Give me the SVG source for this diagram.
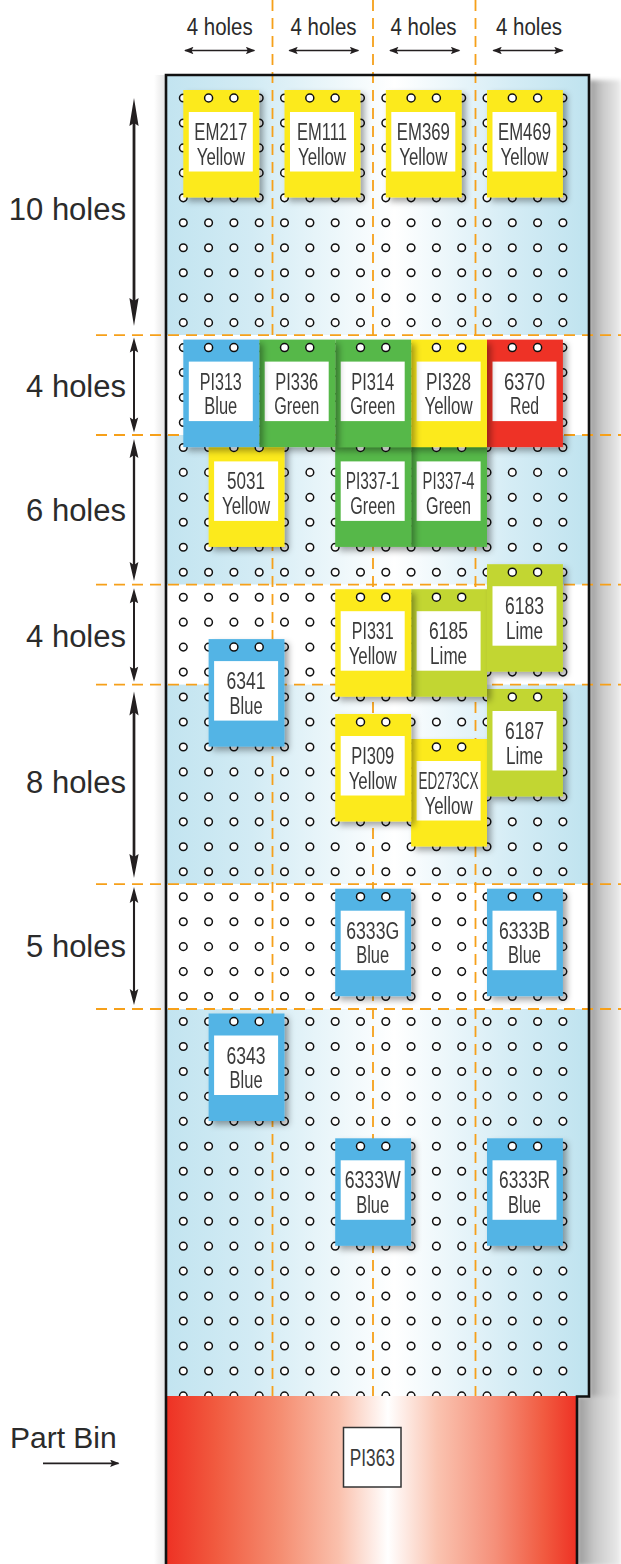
<svg xmlns="http://www.w3.org/2000/svg" width="621" height="1564" viewBox="0 0 621 1564">
<defs>
<style>
.hole{fill:#fff;stroke:#111;stroke-width:1.5}
.thole{fill:#fff;stroke:#111;stroke-width:1.5}
.dash{stroke:#f6a01a;stroke-width:1.8;stroke-dasharray:11 7;fill:none}
.tag{filter:url(#ts)}
.tag text{font-family:"Liberation Sans Narrow","Liberation Sans",Arial,sans-serif;font-size:23.5px;fill:#3a3a3a;text-anchor:middle}
.lbl{fill:#fff}
.y{fill:#fcea1f}.b{fill:#52b4e5}.g{fill:#56b848}.r{fill:#ee3226}.l{fill:#c2d630}
.dim{font-family:"Liberation Sans",Arial,sans-serif;fill:#2b2b2b}
.arr{fill:#231f20}
.arl{stroke:#231f20;fill:none}
.band{fill:url(#band)}
</style>
<linearGradient id="band" gradientUnits="userSpaceOnUse" x1="166" y1="0" x2="589" y2="0">
<stop offset="0" stop-color="#c2e4f0"/>
<stop offset="0.2" stop-color="#d2ebf4"/>
<stop offset="0.54" stop-color="#ffffff"/>
<stop offset="0.82" stop-color="#d4ecf5"/>
<stop offset="1" stop-color="#bfe3ef"/>
</linearGradient>
<linearGradient id="bin" gradientUnits="userSpaceOnUse" x1="166" y1="0" x2="577" y2="0">
<stop offset="0" stop-color="#ee3124"/>
<stop offset="0.12" stop-color="#f15a3f"/>
<stop offset="0.28" stop-color="#f58e72"/>
<stop offset="0.42" stop-color="#fac0ac"/>
<stop offset="0.54" stop-color="#ffffff"/>
<stop offset="0.66" stop-color="#fac3b0"/>
<stop offset="0.8" stop-color="#f5907a"/>
<stop offset="0.92" stop-color="#f15a40"/>
<stop offset="1" stop-color="#ee3124"/>
</linearGradient>
<linearGradient id="shd" x1="0" y1="0" x2="1" y2="0">
<stop offset="0" stop-color="#999"/>
<stop offset="0.4" stop-color="#c8c8c8"/>
<stop offset="1" stop-color="#ececec"/>
</linearGradient>
<linearGradient id="shdL" x1="0" y1="0" x2="1" y2="0">
<stop offset="0" stop-color="#fff"/>
<stop offset="1" stop-color="#e2e2e2"/>
</linearGradient>
<filter id="ts" x="-20%" y="-20%" width="150%" height="150%">
<feDropShadow dx="4" dy="4" stdDeviation="3" flood-color="#000" flood-opacity="0.35"/>
</filter>
<filter id="soft" x="-20%" y="-5%" width="140%" height="110%">
<feGaussianBlur stdDeviation="2"/>
</filter>
<marker id="ah" viewBox="0 0 10 8" refX="9" refY="4" markerWidth="10" markerHeight="7.5" markerUnits="userSpaceOnUse" orient="auto-start-reverse">
<path d="M0,0 L10,4 L0,8 L2,4 Z" fill="#231f20"/>
</marker>
<g id="row">
<circle class="hole" cx="183.3" cy="0" r="3.8"/><circle class="hole" cx="208.6" cy="0" r="3.8"/><circle class="hole" cx="233.9" cy="0" r="3.8"/><circle class="hole" cx="259.2" cy="0" r="3.8"/><circle class="hole" cx="284.5" cy="0" r="3.8"/><circle class="hole" cx="309.9" cy="0" r="3.8"/><circle class="hole" cx="335.2" cy="0" r="3.8"/><circle class="hole" cx="360.5" cy="0" r="3.8"/><circle class="hole" cx="385.8" cy="0" r="3.8"/><circle class="hole" cx="411.1" cy="0" r="3.8"/><circle class="hole" cx="436.4" cy="0" r="3.8"/><circle class="hole" cx="461.7" cy="0" r="3.8"/><circle class="hole" cx="487.0" cy="0" r="3.8"/><circle class="hole" cx="512.3" cy="0" r="3.8"/><circle class="hole" cx="537.6" cy="0" r="3.8"/><circle class="hole" cx="562.9" cy="0" r="3.8"/>
</g>
</defs>
<rect width="621" height="1564" fill="#fff"/>
<g id="board">
<g filter="url(#soft)">
<rect x="589" y="80" width="32" height="1316" fill="url(#shd)"/>
<rect x="577" y="1396" width="44" height="170" fill="url(#shd)"/>
</g>
<rect x="154" y="75" width="12" height="1489" fill="url(#shdL)"/>
<rect class="band" x="166" y="75" width="423" height="260.1"/>
<rect x="166" y="335.1" width="423" height="99.9" fill="#fff"/>
<rect class="band" x="166" y="435" width="423" height="149.7"/>
<rect x="166" y="584.7" width="423" height="99.9" fill="#fff"/>
<rect class="band" x="166" y="684.6" width="423" height="199.6"/>
<rect x="166" y="884.2" width="423" height="124.8" fill="#fff"/>
<rect class="band" x="166" y="1009" width="423" height="387"/>
<g id="holes">
<use href="#row" y="98"/><use href="#row" y="122.96"/><use href="#row" y="147.92"/><use href="#row" y="172.88"/><use href="#row" y="197.84"/><use href="#row" y="222.8"/><use href="#row" y="247.76"/><use href="#row" y="272.72"/><use href="#row" y="297.68"/><use href="#row" y="322.64"/>
<use href="#row" y="347.6"/><use href="#row" y="372.56"/><use href="#row" y="397.52"/><use href="#row" y="422.48"/><use href="#row" y="447.44"/><use href="#row" y="472.4"/><use href="#row" y="497.36"/><use href="#row" y="522.32"/><use href="#row" y="547.28"/><use href="#row" y="572.24"/>
<use href="#row" y="597.2"/><use href="#row" y="622.16"/><use href="#row" y="647.12"/><use href="#row" y="672.08"/><use href="#row" y="697.04"/><use href="#row" y="722"/><use href="#row" y="746.96"/><use href="#row" y="771.92"/><use href="#row" y="796.88"/><use href="#row" y="821.84"/>
<use href="#row" y="846.8"/><use href="#row" y="871.76"/><use href="#row" y="896.72"/><use href="#row" y="921.68"/><use href="#row" y="946.64"/><use href="#row" y="971.6"/><use href="#row" y="996.56"/><use href="#row" y="1021.52"/><use href="#row" y="1046.48"/><use href="#row" y="1071.44"/>
<use href="#row" y="1096.4"/><use href="#row" y="1121.36"/><use href="#row" y="1146.32"/><use href="#row" y="1171.28"/><use href="#row" y="1196.24"/><use href="#row" y="1221.2"/><use href="#row" y="1246.16"/><use href="#row" y="1271.12"/><use href="#row" y="1296.08"/><use href="#row" y="1321.04"/>
<use href="#row" y="1346"/><use href="#row" y="1370.96"/><use href="#row" y="1395.92"/>
</g>
</g>
<g id="guides">
<line class="dash" x1="272.5" y1="0" x2="272.5" y2="1396"/>
<line class="dash" x1="373" y1="0" x2="373" y2="1396"/>
<line class="dash" x1="475.5" y1="0" x2="475.5" y2="1396"/>
<line class="dash" x1="96" y1="335.1" x2="621" y2="335.1"/>
<line class="dash" x1="96" y1="435" x2="621" y2="435"/>
<line class="dash" x1="96" y1="584.7" x2="621" y2="584.7"/>
<line class="dash" x1="96" y1="684.6" x2="621" y2="684.6"/>
<line class="dash" x1="96" y1="884.2" x2="621" y2="884.2"/>
<line class="dash" x1="96" y1="1009" x2="621" y2="1009"/>
</g>
<g id="part-bin">
<rect x="166" y="1396" width="411" height="168" fill="url(#bin)"/>
<rect x="343.5" y="1427.5" width="57.5" height="59.5" fill="#fff" stroke="#333" stroke-width="1.5"/>
<text x="372.3" y="1465.5" font-family="Liberation Sans Narrow, Liberation Sans, Arial, sans-serif" font-size="23.5" fill="#3a3a3a" text-anchor="middle" textLength="45" lengthAdjust="spacingAndGlyphs">PI363</text>
</g>
<g id="tags">
<g id="tag-6333R" class="tag" transform="translate(487,1138.3)"><rect class="b" width="75.9" height="107.5"/><circle class="thole" cx="25.3" cy="8" r="4"/><circle class="thole" cx="50.6" cy="8" r="4"/><rect class="lbl" x="5.5" y="22" width="64" height="59.5"/><text x="37.5" y="50" textLength="51" lengthAdjust="spacingAndGlyphs">6333R</text><text x="37.5" y="74.5" textLength="33" lengthAdjust="spacingAndGlyphs">Blue</text></g>
<g id="tag-6333W" class="tag" transform="translate(335.2,1138.3)"><rect class="b" width="75.9" height="107.5"/><circle class="thole" cx="25.3" cy="8" r="4"/><circle class="thole" cx="50.6" cy="8" r="4"/><rect class="lbl" x="5.5" y="22" width="64" height="59.5"/><text x="37.5" y="50" textLength="56" lengthAdjust="spacingAndGlyphs">6333W</text><text x="37.5" y="74.5" textLength="33" lengthAdjust="spacingAndGlyphs">Blue</text></g>
<g id="tag-6343" class="tag" transform="translate(208.6,1013.5)"><rect class="b" width="75.9" height="107.5"/><circle class="thole" cx="25.3" cy="8" r="4"/><circle class="thole" cx="50.6" cy="8" r="4"/><rect class="lbl" x="5.5" y="22" width="64" height="59.5"/><text x="37.5" y="50" textLength="39" lengthAdjust="spacingAndGlyphs">6343</text><text x="37.5" y="74.5" textLength="33" lengthAdjust="spacingAndGlyphs">Blue</text></g>
<g id="tag-6333B" class="tag" transform="translate(487,888.7)"><rect class="b" width="75.9" height="107.5"/><circle class="thole" cx="25.3" cy="8" r="4"/><circle class="thole" cx="50.6" cy="8" r="4"/><rect class="lbl" x="5.5" y="22" width="64" height="59.5"/><text x="37.5" y="50" textLength="51" lengthAdjust="spacingAndGlyphs">6333B</text><text x="37.5" y="74.5" textLength="33" lengthAdjust="spacingAndGlyphs">Blue</text></g>
<g id="tag-6333G" class="tag" transform="translate(335.2,888.7)"><rect class="b" width="75.9" height="107.5"/><circle class="thole" cx="25.3" cy="8" r="4"/><circle class="thole" cx="50.6" cy="8" r="4"/><rect class="lbl" x="5.5" y="22" width="64" height="59.5"/><text x="37.5" y="50" textLength="53" lengthAdjust="spacingAndGlyphs">6333G</text><text x="37.5" y="74.5" textLength="33" lengthAdjust="spacingAndGlyphs">Blue</text></g>
<g id="tag-ED273CX" class="tag" transform="translate(411.1,739)"><rect class="y" width="75.9" height="107.5"/><circle class="thole" cx="25.3" cy="8" r="4"/><circle class="thole" cx="50.6" cy="8" r="4"/><rect class="lbl" x="5.5" y="22" width="64" height="59.5"/><text x="37.5" y="50" textLength="60" lengthAdjust="spacingAndGlyphs">ED273CX</text><text x="37.5" y="74.5" textLength="48" lengthAdjust="spacingAndGlyphs">Yellow</text></g>
<g id="tag-PI309" class="tag" transform="translate(335.2,714)"><rect class="y" width="75.9" height="107.5"/><circle class="thole" cx="25.3" cy="8" r="4"/><circle class="thole" cx="50.6" cy="8" r="4"/><rect class="lbl" x="5.5" y="22" width="64" height="59.5"/><text x="37.5" y="50" textLength="43" lengthAdjust="spacingAndGlyphs">PI309</text><text x="37.5" y="74.5" textLength="48" lengthAdjust="spacingAndGlyphs">Yellow</text></g>
<g id="tag-6187" class="tag" transform="translate(487,689)"><rect class="l" width="75.9" height="107.5"/><circle class="thole" cx="25.3" cy="8" r="4"/><circle class="thole" cx="50.6" cy="8" r="4"/><rect class="lbl" x="5.5" y="22" width="64" height="59.5"/><text x="37.5" y="50" textLength="39" lengthAdjust="spacingAndGlyphs">6187</text><text x="37.5" y="74.5" textLength="37" lengthAdjust="spacingAndGlyphs">Lime</text></g>
<g id="tag-6341" class="tag" transform="translate(208.6,639.1)"><rect class="b" width="75.9" height="107.5"/><circle class="thole" cx="25.3" cy="8" r="4"/><circle class="thole" cx="50.6" cy="8" r="4"/><rect class="lbl" x="5.5" y="22" width="64" height="59.5"/><text x="37.5" y="50" textLength="39" lengthAdjust="spacingAndGlyphs">6341</text><text x="37.5" y="74.5" textLength="33" lengthAdjust="spacingAndGlyphs">Blue</text></g>
<g id="tag-6185" class="tag" transform="translate(411.1,589.2)"><rect class="l" width="75.9" height="107.5"/><circle class="thole" cx="25.3" cy="8" r="4"/><circle class="thole" cx="50.6" cy="8" r="4"/><rect class="lbl" x="5.5" y="22" width="64" height="59.5"/><text x="37.5" y="50" textLength="39" lengthAdjust="spacingAndGlyphs">6185</text><text x="37.5" y="74.5" textLength="37" lengthAdjust="spacingAndGlyphs">Lime</text></g>
<g id="tag-PI331" class="tag" transform="translate(335.2,589.2)"><rect class="y" width="75.9" height="107.5"/><circle class="thole" cx="25.3" cy="8" r="4"/><circle class="thole" cx="50.6" cy="8" r="4"/><rect class="lbl" x="5.5" y="22" width="64" height="59.5"/><text x="37.5" y="50" textLength="42" lengthAdjust="spacingAndGlyphs">PI331</text><text x="37.5" y="74.5" textLength="48" lengthAdjust="spacingAndGlyphs">Yellow</text></g>
<g id="tag-6183" class="tag" transform="translate(487,564.2)"><rect class="l" width="75.9" height="107.5"/><circle class="thole" cx="25.3" cy="8" r="4"/><circle class="thole" cx="50.6" cy="8" r="4"/><rect class="lbl" x="5.5" y="22" width="64" height="59.5"/><text x="37.5" y="50" textLength="39" lengthAdjust="spacingAndGlyphs">6183</text><text x="37.5" y="74.5" textLength="37" lengthAdjust="spacingAndGlyphs">Lime</text></g>
<g id="tag-PI337-4" class="tag" transform="translate(411.1,439.4)"><rect class="g" width="75.9" height="107.5"/><circle class="thole" cx="25.3" cy="8" r="4"/><circle class="thole" cx="50.6" cy="8" r="4"/><rect class="lbl" x="5.5" y="22" width="64" height="59.5"/><text x="37.5" y="50" textLength="52" lengthAdjust="spacingAndGlyphs">PI337-4</text><text x="37.5" y="74.5" textLength="45" lengthAdjust="spacingAndGlyphs">Green</text></g>
<g id="tag-PI337-1" class="tag" transform="translate(335.2,439.4)"><rect class="g" width="75.9" height="107.5"/><circle class="thole" cx="25.3" cy="8" r="4"/><circle class="thole" cx="50.6" cy="8" r="4"/><rect class="lbl" x="5.5" y="22" width="64" height="59.5"/><text x="37.5" y="50" textLength="54" lengthAdjust="spacingAndGlyphs">PI337-1</text><text x="37.5" y="74.5" textLength="45" lengthAdjust="spacingAndGlyphs">Green</text></g>
<g id="tag-5031" class="tag" transform="translate(208.6,439.4)"><rect class="y" width="75.9" height="107.5"/><circle class="thole" cx="25.3" cy="8" r="4"/><circle class="thole" cx="50.6" cy="8" r="4"/><rect class="lbl" x="5.5" y="22" width="64" height="59.5"/><text x="37.5" y="50" textLength="38" lengthAdjust="spacingAndGlyphs">5031</text><text x="37.5" y="74.5" textLength="48" lengthAdjust="spacingAndGlyphs">Yellow</text></g>
<g id="tag-6370" class="tag" transform="translate(487,339.6)"><rect class="r" width="75.9" height="107.5"/><circle class="thole" cx="25.3" cy="8" r="4"/><circle class="thole" cx="50.6" cy="8" r="4"/><rect class="lbl" x="5.5" y="22" width="64" height="59.5"/><text x="37.5" y="50" textLength="41" lengthAdjust="spacingAndGlyphs">6370</text><text x="37.5" y="74.5" textLength="29" lengthAdjust="spacingAndGlyphs">Red</text></g>
<g id="tag-PI328" class="tag" transform="translate(411.1,339.6)"><rect class="y" width="75.9" height="107.5"/><circle class="thole" cx="25.3" cy="8" r="4"/><circle class="thole" cx="50.6" cy="8" r="4"/><rect class="lbl" x="5.5" y="22" width="64" height="59.5"/><text x="37.5" y="50" textLength="45" lengthAdjust="spacingAndGlyphs">PI328</text><text x="37.5" y="74.5" textLength="48" lengthAdjust="spacingAndGlyphs">Yellow</text></g>
<g id="tag-PI314" class="tag" transform="translate(335.2,339.6)"><rect class="g" width="75.9" height="107.5"/><circle class="thole" cx="25.3" cy="8" r="4"/><circle class="thole" cx="50.6" cy="8" r="4"/><rect class="lbl" x="5.5" y="22" width="64" height="59.5"/><text x="37.5" y="50" textLength="43" lengthAdjust="spacingAndGlyphs">PI314</text><text x="37.5" y="74.5" textLength="45" lengthAdjust="spacingAndGlyphs">Green</text></g>
<g id="tag-PI336" class="tag" transform="translate(259.2,339.6)"><rect class="g" width="75.9" height="107.5"/><circle class="thole" cx="25.3" cy="8" r="4"/><circle class="thole" cx="50.6" cy="8" r="4"/><rect class="lbl" x="5.5" y="22" width="64" height="59.5"/><text x="37.5" y="50" textLength="43" lengthAdjust="spacingAndGlyphs">PI336</text><text x="37.5" y="74.5" textLength="45" lengthAdjust="spacingAndGlyphs">Green</text></g>
<g id="tag-PI313" class="tag" transform="translate(183.3,339.6)"><rect class="b" width="75.9" height="107.5"/><circle class="thole" cx="25.3" cy="8" r="4"/><circle class="thole" cx="50.6" cy="8" r="4"/><rect class="lbl" x="5.5" y="22" width="64" height="59.5"/><text x="37.5" y="50" textLength="42" lengthAdjust="spacingAndGlyphs">PI313</text><text x="37.5" y="74.5" textLength="33" lengthAdjust="spacingAndGlyphs">Blue</text></g>
<g id="tag-EM469" class="tag" transform="translate(487,90)"><rect class="y" width="75.9" height="107.5"/><circle class="thole" cx="25.3" cy="8" r="4"/><circle class="thole" cx="50.6" cy="8" r="4"/><rect class="lbl" x="5.5" y="22" width="64" height="59.5"/><text x="37.5" y="50" textLength="53" lengthAdjust="spacingAndGlyphs">EM469</text><text x="37.5" y="74.5" textLength="48" lengthAdjust="spacingAndGlyphs">Yellow</text></g>
<g id="tag-EM369" class="tag" transform="translate(385.8,90)"><rect class="y" width="75.9" height="107.5"/><circle class="thole" cx="25.3" cy="8" r="4"/><circle class="thole" cx="50.6" cy="8" r="4"/><rect class="lbl" x="5.5" y="22" width="64" height="59.5"/><text x="37.5" y="50" textLength="53" lengthAdjust="spacingAndGlyphs">EM369</text><text x="37.5" y="74.5" textLength="48" lengthAdjust="spacingAndGlyphs">Yellow</text></g>
<g id="tag-EM111" class="tag" transform="translate(284.5,90)"><rect class="y" width="75.9" height="107.5"/><circle class="thole" cx="25.3" cy="8" r="4"/><circle class="thole" cx="50.6" cy="8" r="4"/><rect class="lbl" x="5.5" y="22" width="64" height="59.5"/><text x="37.5" y="50" textLength="50" lengthAdjust="spacingAndGlyphs">EM111</text><text x="37.5" y="74.5" textLength="48" lengthAdjust="spacingAndGlyphs">Yellow</text></g>
<g id="tag-EM217" class="tag" transform="translate(183.3,90)"><rect class="y" width="75.9" height="107.5"/><circle class="thole" cx="25.3" cy="8" r="4"/><circle class="thole" cx="50.6" cy="8" r="4"/><rect class="lbl" x="5.5" y="22" width="64" height="59.5"/><text x="37.5" y="50" textLength="53" lengthAdjust="spacingAndGlyphs">EM217</text><text x="37.5" y="74.5" textLength="48" lengthAdjust="spacingAndGlyphs">Yellow</text></g>
</g>
<path id="board-outline" d="M166,1566 V75 H589 V1396.5 H577 V1566" fill="none" stroke="#111" stroke-width="2.6"/>
<g id="dimensions-left">
<line class="arl" x1="134" y1="123" x2="134" y2="301" stroke-width="2.8"/>
<polygon class="arr" points="134,98 138.6,126 134,123 129.4,126"/>
<polygon class="arr" points="134,326 138.6,298 134,301 129.4,298"/>
<text class="dim" x="126" y="219.5" font-size="31" text-anchor="end">10 holes</text>
<line class="arl" x1="134" y1="350" x2="134" y2="420" stroke-width="2"/>
<polygon class="arr" points="134,337.5 138.2,352.5 134,350 129.8,352.5"/>
<polygon class="arr" points="134,432.5 138.2,417.5 134,420 129.8,417.5"/>
<text class="dim" x="126" y="396.5" font-size="31" text-anchor="end">4 holes</text>
<line class="arl" x1="134" y1="455" x2="134" y2="565" stroke-width="2.3"/>
<polygon class="arr" points="134,439 138.4,458 134,455 129.6,458"/>
<polygon class="arr" points="134,581 138.4,562 134,565 129.6,562"/>
<text class="dim" x="126" y="521" font-size="31" text-anchor="end">6 holes</text>
<line class="arl" x1="134" y1="601" x2="134" y2="669" stroke-width="2"/>
<polygon class="arr" points="134,588.3 138.2,603.3 134,601 129.8,603.3"/>
<polygon class="arr" points="134,681.7 138.2,666.7 134,669 129.8,666.7"/>
<text class="dim" x="126" y="646.5" font-size="31" text-anchor="end">4 holes</text>
<line class="arl" x1="134" y1="712" x2="134" y2="857" stroke-width="2.7"/>
<polygon class="arr" points="134,691.5 138.6,715.5 134,712 129.4,715.5"/>
<polygon class="arr" points="134,878 138.6,854 134,857 129.4,854"/>
<text class="dim" x="126" y="793" font-size="31" text-anchor="end">8 holes</text>
<line class="arl" x1="134" y1="900" x2="134" y2="992" stroke-width="2.1"/>
<polygon class="arr" points="134,887 138.3,903 134,900 129.7,903"/>
<polygon class="arr" points="134,1005 138.3,989 134,992 129.7,989"/>
<text class="dim" x="126" y="957" font-size="31" text-anchor="end">5 holes</text>
</g>
<g id="dimensions-top">
<text class="dim" x="219.7" y="35" font-size="23" text-anchor="middle" textLength="66" lengthAdjust="spacingAndGlyphs">4 holes</text>
<text class="dim" x="323.5" y="35" font-size="23" text-anchor="middle" textLength="66" lengthAdjust="spacingAndGlyphs">4 holes</text>
<text class="dim" x="423.5" y="35" font-size="23" text-anchor="middle" textLength="66" lengthAdjust="spacingAndGlyphs">4 holes</text>
<text class="dim" x="529" y="35" font-size="23" text-anchor="middle" textLength="66" lengthAdjust="spacingAndGlyphs">4 holes</text>
<line class="arl" x1="185" y1="50.5" x2="254.3" y2="50.5" stroke-width="1.6" marker-start="url(#ah)" marker-end="url(#ah)"/>
<line class="arl" x1="289.3" y1="50.5" x2="358.3" y2="50.5" stroke-width="1.6" marker-start="url(#ah)" marker-end="url(#ah)"/>
<line class="arl" x1="390" y1="50.5" x2="459.3" y2="50.5" stroke-width="1.6" marker-start="url(#ah)" marker-end="url(#ah)"/>
<line class="arl" x1="493.3" y1="50.5" x2="562.7" y2="50.5" stroke-width="1.6" marker-start="url(#ah)" marker-end="url(#ah)"/>
</g>
<g id="part-bin-label">
<text class="dim" x="10" y="1448" font-size="30">Part Bin</text>
<line class="arl" x1="43" y1="1463.3" x2="118.5" y2="1463.3" stroke-width="1.7" marker-end="url(#ah)"/>
</g>
</svg>
